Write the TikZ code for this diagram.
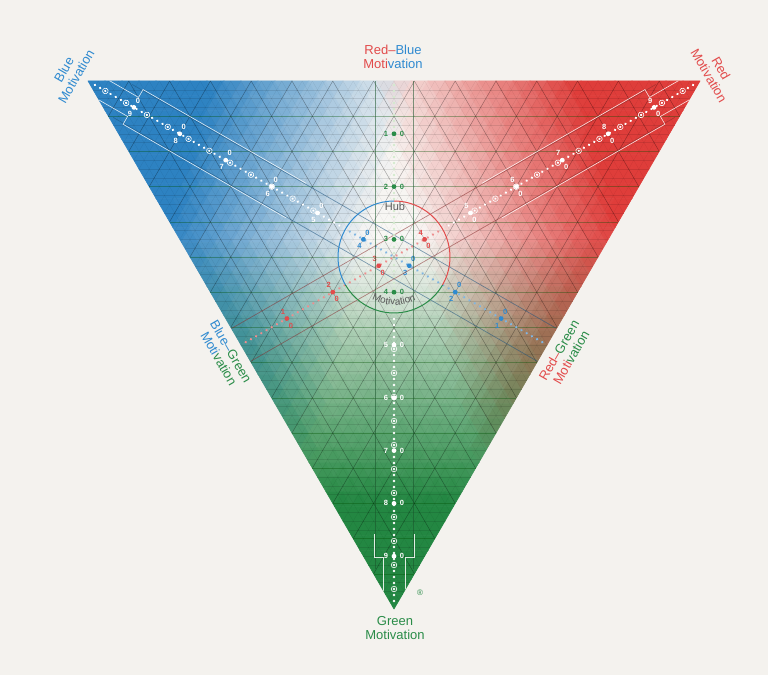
\documentclass[tikz,border=0pt]{standalone}
\usepackage{fontspec}
\setmainfont{Liberation Sans}
\usepackage{tikz}
\usetikzlibrary{calc,decorations.text}
\definecolor{paper}{HTML}{F4F2EE}
\definecolor{bluemot}{HTML}{2F8AD0}
\definecolor{redmot}{HTML}{E24B4B}
\definecolor{greenmot}{HTML}{2A8C48}
\definecolor{bluefar}{HTML}{7FB5E2}
\definecolor{redfar}{HTML}{EE8E8E}
\definecolor{greenfar}{HTML}{D4EACE}
\definecolor{hubgray}{HTML}{5A5A5A}

% colour of one cell, from its red and green weights
\newcommand{\cellcolour}[2]{%
  \pgfmathsetmacro{\wtR}{#1}\pgfmathsetmacro{\wtG}{#2}%
  \pgfmathsetmacro{\wtB}{1-\wtR-\wtG}%
  \pgfmathsetmacro{\mixB}{max(0,min(1,2.2*\wtB-0.6-0.8*\wtR))}%
  \pgfmathsetmacro{\mixR}{max(0,min(1,2.2*\wtR-0.6-0.8*\wtB))}%
  \pgfmathsetmacro{\mixG}{max(0,min(1,2*\wtG-0.6))}%
  \pgfmathsetmacro{\rgbR}{0.97*(1-min(1,0.82*\mixB+0.10*\mixR+0.86*\mixG))}%
  \pgfmathsetmacro{\rgbG}{0.96*(1-min(1,0.47*\mixB+0.75*\mixR+0.45*\mixG))}%
  \pgfmathsetmacro{\rgbB}{0.95*(1-min(1,0.20*\mixB+0.76*\mixR+0.73*\mixG))}%
  \definecolor{cellcol}{rgb}{\rgbR,\rgbG,\rgbB}}

\begin{document}
\begin{tikzpicture}[x=1pt,y=1pt,
  gridline/.style={black,opacity=0.28,line width=0.5pt},
  finegrid/.style={black,opacity=0.1,line width=0.2pt},
  lbl/.style={font=\fontsize{13}{14}\selectfont,align=center,inner sep=0pt},
  digit/.style={font=\fontsize{7.5}{8}\selectfont\bfseries,inner sep=0pt}]
\fill[paper] (0,0) rectangle (768,675);
\coordinate (B) at (88,594);
\coordinate (R) at (700,594);
\coordinate (G) at (394,66);
\coordinate (H) at (394,418);

% shaded cells
\foreach \i in {0,...,35}{
  \pgfmathtruncatemacro{\jtop}{35-\i}
  \foreach \j in {0,...,\jtop}{
    \cellcolour{(\i+1/3)/36}{(\j+1/3)/36}
    \filldraw[cellcol,line width=0.6pt,line join=round] (88+17*\i+8.5*\j,594-14.6667*\j) -- ++(17,0) -- ++(-8.5,-14.6667) -- cycle;
    \ifnum\j<\jtop
      \cellcolour{(\i+2/3)/36}{(\j+2/3)/36}
      \filldraw[cellcol,line width=0.6pt,line join=round] (105+17*\i+8.5*\j,594-14.6667*\j) -- ++(-8.5,-14.6667) -- ++(17,0) -- cycle;
    \fi
  }
}

% grid
\foreach \k in {1,...,59}{
  \pgfmathsetmacro{\pos}{\k/60}
  \draw[finegrid] ($(B)!\pos!(G)$) -- ($(R)!\pos!(G)$);
  \draw[finegrid] ($(B)!\pos!(R)$) -- ($(G)!\pos!(R)$);
  \draw[finegrid] ($(B)!\pos!(R)$) -- ($(B)!\pos!(G)$);
}
\foreach \k in {1,...,14}{
  \pgfmathsetmacro{\pos}{\k/15}
  \draw[gridline,green!40!black] ($(B)!\pos!(G)$) -- ($(R)!\pos!(G)$);
  \draw[gridline] ($(B)!\pos!(R)$) -- ($(G)!\pos!(R)$);
  \draw[gridline] ($(B)!\pos!(R)$) -- ($(B)!\pos!(G)$);
}

\fill[white,opacity=0.2] (H) circle[radius=56];

% the three axes
\begin{scope}
\clip (B) -- (R) -- (G) -- cycle;
\foreach \vx/\vy/\ang/\len/\far/\tone/\side/\wlen in {
    88/594/-29.9/529.5/bluefar/bluemot/-1/240,
    700/594/209.9/529.5/redfar/redmot/-1/240,
    394/66/90/528/greenfar/greenmot/1/75}{
  \begin{scope}[shift={(\vx,\vy)},rotate=\ang]
    \draw[\tone!60!black,opacity=0.55,line width=0.7pt] (40,19) -- (\len,19) (40,-19) -- (\len,-19);
    \draw[white,opacity=0.85,line width=0.6pt] (16,11) -- (52,11) -- (52,20) -- (\wlen,20)
      (16,-11) -- (52,-11) -- (52,-20) -- (\wlen,-20);
    \foreach \d in {8,14,...,290} \fill[white] (\d,0) circle[radius=1.3];
    \foreach \d in {20,44,...,280} \draw[white,line width=0.6pt] (\d,0) circle[radius=2.8];
    \foreach \d in {302,308,...,\len} \fill[\far] (\d,0) circle[radius=1.3];
    \foreach \v in {1,...,9}{
      \pgfmathsetmacro{\dd}{(10-\v)*\len/10}
      \ifnum\v>4 \edef\mk{white}\else\edef\mk{\tone}\fi
      \fill[\mk] (\dd,0) circle[radius=2.4];
      \node[digit,text=\mk] (d\v) at (\dd,8*\side) {\v};
      \node[digit,text=\mk] (z\v) at (\dd,-8*\side) {0};
    }
  \end{scope}}
\end{scope}

% hub
\draw[bluemot,line width=1pt] ([shift={(90:56)}]H) arc[start angle=90,end angle=210,radius=56];
\draw[greenmot,line width=1pt] ([shift={(210:56)}]H) arc[start angle=210,end angle=330,radius=56];
\draw[redmot,line width=1pt] ([shift={(330:56)}]H) arc[start angle=330,end angle=450,radius=56];
\node[font=\fontsize{11}{11}\selectfont,text=hubgray] (hub) at (395,468) {Hub};
\path[decorate,decoration={text along path,text align=center,text color=hubgray,
  text={|\fontsize{10}{10}\selectfont|Motivation}}] ([shift={(236:48)}]H) arc[start angle=236,end angle=304,radius=48];

% labels
\node[lbl] (rb) at (393,618) {\textcolor{redmot}{Red--}\textcolor{bluemot}{Blue}\\\textcolor{redmot}{Moti}\textcolor{bluemot}{vation}};
\node[lbl,text=bluemot,rotate=60] (bm) at (70,602) {Blue\\Motivation};
\node[lbl,text=redmot,rotate=-60] (rm) at (715,603) {Red\\Motivation};
\node[lbl,rotate=-60] (bg) at (225,320) {\textcolor{bluemot}{Blue--}\textcolor{greenmot}{Green}\\\textcolor{bluemot}{Moti}\textcolor{greenmot}{vation}};
\node[lbl,rotate=60] (rg) at (565,321) {\textcolor{redmot}{Red--}\textcolor{greenmot}{Green}\\\textcolor{redmot}{Moti}\textcolor{greenmot}{vation}};
\node[lbl,text=greenmot] (gm) at (395,47) {Green\\Motivation};
\node[text=greenmot,font=\fontsize{8}{8}\selectfont,inner sep=0pt] (reg) at (420,82) {®};
\end{tikzpicture}
\end{document}
